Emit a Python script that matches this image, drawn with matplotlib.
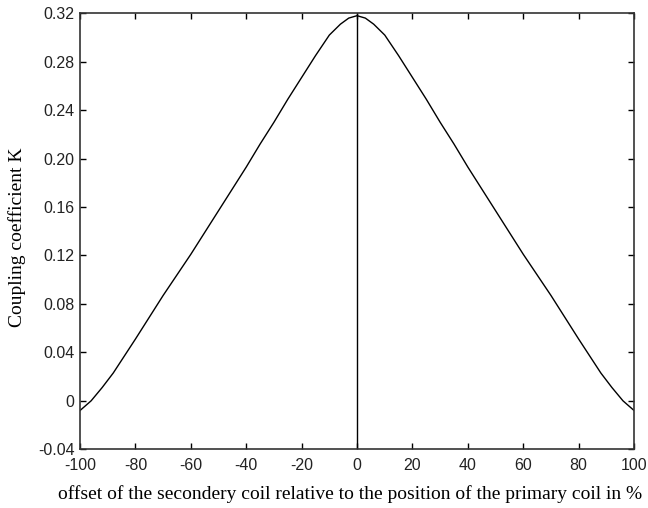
import matplotlib
matplotlib.use('Agg')
import matplotlib.pyplot as plt

# offset in %, coupling coefficient K
offset = [-100, -96, -92, -88, -84, -80, -75, -70, -65, -60, -55, -50, -45, -40,
          -35, -30, -25, -20, -15, -10, -6, -3, 0,
          3, 6, 10, 15, 20, 25, 30, 35, 40, 45, 50, 55, 60, 65, 70, 75, 80,
          84, 88, 92, 96, 100]
coupling = [-0.008, 0.000, 0.011, 0.023, 0.037, 0.051, 0.069, 0.087, 0.104, 0.121,
            0.139, 0.157, 0.175, 0.193, 0.212, 0.230, 0.249, 0.267, 0.285, 0.302,
            0.311, 0.316, 0.318,
            0.316, 0.311, 0.302, 0.285, 0.267, 0.249, 0.230, 0.212, 0.193, 0.175,
            0.157, 0.139, 0.121, 0.104, 0.087, 0.069, 0.051, 0.037, 0.023, 0.011,
            0.000, -0.008]

xticks = [-100, -80, -60, -40, -20, 0, 20, 40, 60, 80, 100]
yticks = [-0.04, 0, 0.04, 0.08, 0.12, 0.16, 0.20, 0.24, 0.28, 0.32]
ytick_labels = ['-0.04', '0', '0.04', '0.08', '0.12', '0.16', '0.20', '0.24', '0.28', '0.32']

fig = plt.figure(figsize=(6.48, 5.08), dpi=100)
ax = fig.add_axes([0.1235, 0.1156, 0.855, 0.8583])

ax.plot(offset, coupling, color='black', linewidth=1.0)
ax.plot([0, 0], [-0.04, 0.32], color='black', linewidth=1.0)

ax.set_xlim(-100, 100)
ax.set_ylim(-0.04, 0.32)
ax.set_xticks(xticks)
ax.set_xticklabels([str(t) for t in xticks])
ax.set_yticks(yticks)
ax.set_yticklabels(ytick_labels)

ax.tick_params(direction='in', top=True, right=True, length=4, width=1.0,
               labelsize=11.5)
ax.tick_params(axis='x', pad=6)
ax.tick_params(axis='y', pad=4)
for lab in ax.get_xticklabels() + ax.get_yticklabels():
    lab.set_family('Liberation Sans')
    lab.set_color('#222222')
for sp in ax.spines.values():
    sp.set_linewidth(1.2)
    sp.set_color('#333333')

ax.set_xlabel('offset of the secondery coil relative to the position of the primary coil in %',
              family='Liberation Serif', fontsize=14)
ax.set_ylabel('Coupling coefficient K', family='Liberation Serif', fontsize=14)
ax.xaxis.set_label_coords(0.487, -0.082)
ax.yaxis.set_label_coords(-0.098, 0.486)

fig.savefig('out.png', dpi=100)
